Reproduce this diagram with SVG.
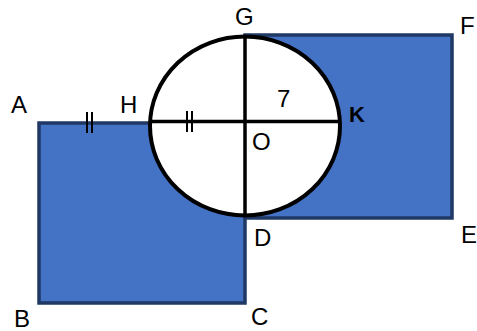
<svg xmlns="http://www.w3.org/2000/svg" width="477" height="331" viewBox="0 0 477 331">
<style>
.sq{fill:#4472C4;stroke:#1F3864;stroke-width:3.5}
.ln{stroke:#000;stroke-width:3.5;fill:none}
.tk{stroke:#000;stroke-width:2}
.lb{font-family:"Liberation Sans",Arial,sans-serif;font-size:24px;fill:#000}
</style>
<rect width="477" height="331" fill="#fff"/>
<g id="square-ABCH">
<rect class="sq" x="39" y="123" width="206" height="180"/>
</g>
<g id="square-GFED">
<rect class="sq" x="245" y="35" width="207" height="183"/>
</g>
<g id="circle">
<ellipse cx="245" cy="126" rx="95" ry="89.5" fill="#fff" stroke="#000" stroke-width="4"/>
</g>
<g id="connectors">
<line class="ln" x1="150" y1="121.5" x2="340" y2="121.5"/>
<line class="ln" x1="245" y1="37" x2="245" y2="216"/>
<line class="tk" x1="87" y1="112" x2="87" y2="133"/>
<line class="tk" x1="92" y1="112" x2="92" y2="133"/>
<line class="tk" x1="187" y1="111" x2="187" y2="132"/>
<line class="tk" x1="192" y1="111" x2="192" y2="132"/>
</g>
<g id="labels">
<text class="lb" x="11" y="113">A</text>
<text class="lb" x="120" y="113">H</text>
<text class="lb" x="235" y="25">G</text>
<text class="lb" x="460" y="34">F</text>
<text class="lb" x="277" y="107">7</text>
<text class="lb" x="349" y="122" style="font-weight:bold;font-size:22px">K</text>
<text class="lb" x="252" y="150">O</text>
<text class="lb" x="254" y="246">D</text>
<text class="lb" x="461" y="243">E</text>
<text class="lb" x="14" y="327">B</text>
<text class="lb" x="251" y="325">C</text>
</g>
</svg>
